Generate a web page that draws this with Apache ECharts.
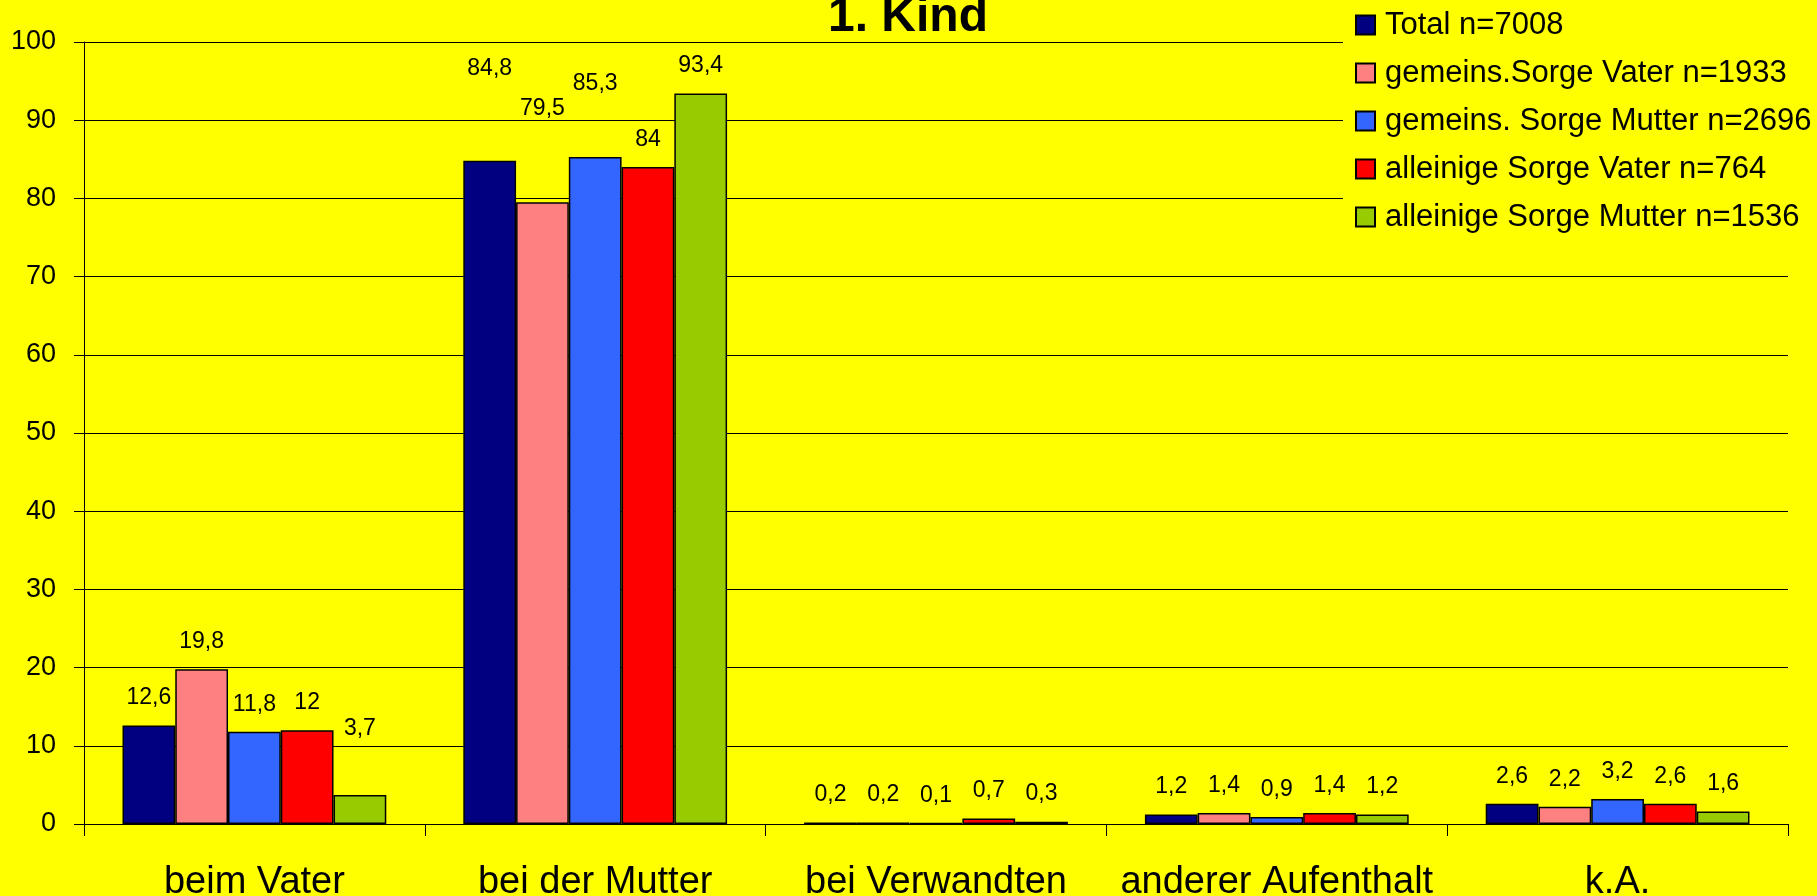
<!doctype html>
<html lang="de">

<head>
    <meta charset="UTF-8">
    <title>1. Kind</title>
    <style>
        html, body { margin: 0; padding: 0; background: #FFFF00; }
    </style>
</head>

<body>
    <div id="main" style="width: 1817px;height:896px;"></div>
    <script src="https://cdn.jsdelivr.net/npm/echarts@6/dist/echarts.min.js"></script>
    <script>
        // Daten
        var categories = ['beim Vater', 'bei der Mutter', 'bei Verwandten', 'anderer Aufenthalt', 'k.A.'];
        var seriesNames = ['Total n=7008', 'gemeins.Sorge Vater n=1933', 'gemeins. Sorge Mutter n=2696',
            'alleinige Sorge Vater n=764', 'alleinige Sorge Mutter n=1536'];
        var total = [12.6, 84.8, 0.2, 1.2, 2.6];
        var gemVater = [19.8, 79.5, 0.2, 1.4, 2.2];
        var gemMutter = [11.8, 85.3, 0.1, 0.9, 3.2];
        var alleinVater = [12, 84, 0.7, 1.4, 2.6];
        var alleinMutter = [3.7, 93.4, 0.3, 1.2, 1.6];
        var yTicks = [0, 10, 20, 30, 40, 50, 60, 70, 80, 90, 100];

        var colors = ['#000080', '#FF8080', '#3366FF', '#FF0000', '#99CC00'];
        // Beschriftungen, die im Original höher stehen (Serie-Kategorie: Abstand)
        var labelLift = { '0-1': 81, '1-1': 82, '2-1': 62, '4-0': 55 };
        var font = "'Liberation Sans', Arial, sans-serif";

        var myChart = echarts.init(document.getElementById('main'));

        var values = [total, gemVater, gemMutter, alleinVater, alleinMutter];
        var series = values.map(function (vals, s) {
            return {
                name: seriesNames[s],
                type: 'bar',
                barGap: 0,
                barCategoryGap: '22.6%',
                itemStyle: { color: colors[s], borderColor: '#000', borderWidth: 1.5 },
                label: {
                    show: true,
                    position: 'top',
                    distance: 16,
                    color: '#000',
                    fontSize: 23,
                    fontFamily: font,
                    formatter: function (p) { return String(p.value).replace('.', ','); }
                },
                data: vals.map(function (v, i) {
                    var lift = labelLift[s + '-' + i];
                    return lift ? { value: v, label: { distance: lift } } : v;
                })
            };
        });

        option = {
            backgroundColor: '#FFFF00',
            animation: false,
            color: colors,
            title: {
                text: '1. Kind',
                left: 828,
                top: -6,
                padding: 0,
                textStyle: { fontSize: 48, fontWeight: 'bold', color: '#000', fontFamily: font }
            },
            legend: {
                data: seriesNames,
                orient: 'vertical',
                left: 1343,
                top: 0,
                padding: [8, 20, 20, 12],
                backgroundColor: '#FFFF00',
                itemGap: 14,
                itemWidth: 19,
                itemHeight: 19,
                icon: 'rect',
                textStyle: { fontSize: 31, lineHeight: 34, color: '#000', fontFamily: font, padding: [0, 0, 0, 5] }
            },
            grid: { left: 84, right: 29, top: 42, bottom: 72, containLabel: false, outerBoundsMode: 'none' },
            xAxis: {
                type: 'category',
                data: categories,
                axisLine: { lineStyle: { color: '#000', width: 1 } },
                axisTick: { show: true, interval: 0, length: 12, lineStyle: { color: '#000' } },
                axisLabel: { fontSize: 38, margin: 40, color: '#000', fontFamily: font, interval: 0 }
            },
            yAxis: {
                type: 'value',
                min: yTicks[0],
                max: yTicks[yTicks.length - 1],
                interval: yTicks[1] - yTicks[0],
                axisLine: { show: true, lineStyle: { color: '#000', width: 1 } },
                axisTick: { show: true, length: 10, lineStyle: { color: '#000' } },
                splitLine: { lineStyle: { color: '#000', width: 1 } },
                axisLabel: { fontSize: 27, margin: 28, color: '#000', fontFamily: font }
            },
            series: series
        };

        myChart.setOption(option);
    </script>
</body>

</html>
